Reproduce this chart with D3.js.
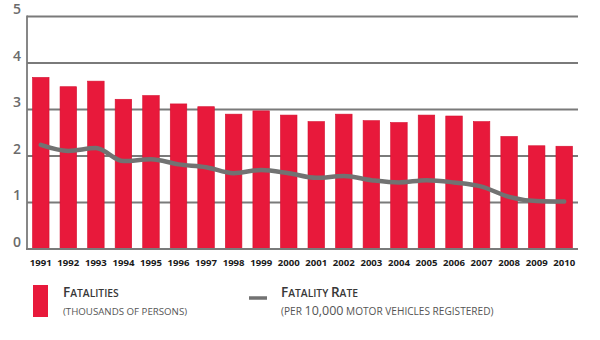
<!DOCTYPE html>
<html><head><meta charset="utf-8">
<script src="https://cdn.jsdelivr.net/npm/d3@7"></script>
<style>body{margin:0;background:#fff}svg{display:block}</style>
</head><body>
<svg id="c" width="600" height="340"></svg>
<script>
const years = ["1991","1992","1993","1994","1995","1996","1997","1998","1999","2000","2001","2002","2003","2004","2005","2006","2007","2008","2009","2010"];
const fatalities = [3.69,3.49,3.61,3.22,3.30,3.12,3.06,2.90,2.97,2.88,2.74,2.90,2.76,2.72,2.88,2.86,2.74,2.42,2.22,2.21];
const fatalityRate = [2.24,2.11,2.17,1.89,1.93,1.82,1.76,1.63,1.70,1.63,1.53,1.57,1.48,1.43,1.48,1.43,1.34,1.12,1.03,1.02];
const yTicks = [0,1,2,3,4,5];

const svg = d3.select("#c");
const font = "'Open Sans', 'Noto Sans', sans-serif";
const x = d3.scaleBand().domain(years).range([27, 578]).paddingInner(0.4).paddingOuter(0.2);
const y = d3.scaleLinear().domain([0,5]).range([249, 16.5]);

// gridlines
svg.append("g").selectAll("line").data(yTicks.filter(d=>d>0)).join("line")
  .attr("x1",27).attr("x2",578).attr("y1",d=>y(d)).attr("y2",d=>y(d))
  .attr("stroke","#7a7a7a").attr("stroke-width",1.8);

// bars
svg.append("g").selectAll("rect").data(years).join("rect")
  .attr("x",d=>x(d)).attr("width",x.bandwidth())
  .attr("y",(d,i)=>y(fatalities[i])).attr("height",(d,i)=>y(0)-y(fatalities[i]))
  .attr("fill","#e8193b").attr("stroke","#d5102f").attr("stroke-width",0.6);

// axes lines
svg.append("line").attr("x1",27).attr("x2",27).attr("y1",y(5)-1).attr("y2",y(0)+1)
  .attr("stroke","#7a7a7a").attr("stroke-width",1.8);
svg.append("line").attr("x1",26).attr("x2",578).attr("y1",y(0)).attr("y2",y(0))
  .attr("stroke","#7a7a7a").attr("stroke-width",2.2);

// rate line
const line = d3.line().x((d,i)=>x(years[i])+x.bandwidth()/2).y(d=>y(d)).curve(d3.curveMonotoneX);
svg.append("path").datum(fatalityRate).attr("d",line)
  .attr("fill","none").attr("stroke","#727272").attr("stroke-width",4.5).attr("stroke-linecap","round").attr("stroke-linejoin","round");

// y labels
svg.append("g").selectAll("text").data(yTicks).join("text")
  .attr("x",17).attr("y",d=>y(d)-2.5).attr("text-anchor","middle")
  .attr("font-family",font).attr("font-size",14).attr("font-weight",600).attr("fill","#6b6b6b")
  .text(d=>d);

// x labels
svg.append("g").selectAll("text").data(years).join("text")
  .attr("x",d=>x(d)+x.bandwidth()/2).attr("y",266).attr("text-anchor","middle")
  .attr("font-family",font).attr("font-size",9.6).attr("font-weight",700).attr("fill","#1a1a1a")
  .text(d=>d);

// legend
const lg = svg.append("g");
lg.append("rect").attr("x",33).attr("y",285).attr("width",15).attr("height",32).attr("fill","#e8193b");
lg.append("line").attr("x1",249).attr("x2",267).attr("y1",298).attr("y2",298).attr("stroke","#727272").attr("stroke-width",3.5);

function sc(parent, xPos, yPos, parts, fill, weight){
  const t = parent.append("text").attr("x",xPos).attr("y",yPos).attr("font-family",font).attr("fill",fill).attr("font-weight",weight);
  parts.forEach(p=>t.append("tspan").attr("font-size",p[1]).text(p[0]));
  return t;
}
sc(lg, 63, 297, [["F",13.5],["ATALITIES",10.3]], "#383838", 600);
sc(lg, 63, 314.5, [["(THOUSANDS OF PERSONS)",9.7]], "#555", 400);
sc(lg, 281, 297, [["F",13.5],["ATALITY ",10.3],["R",13.5],["ATE",10.3]], "#383838", 600);
sc(lg, 281, 314.5, [["(PER ",10.1],["10,000",12.5],[" MOTOR VEHICLES REGISTERED)",10.1]], "#555", 400);
</script>
</body></html>
